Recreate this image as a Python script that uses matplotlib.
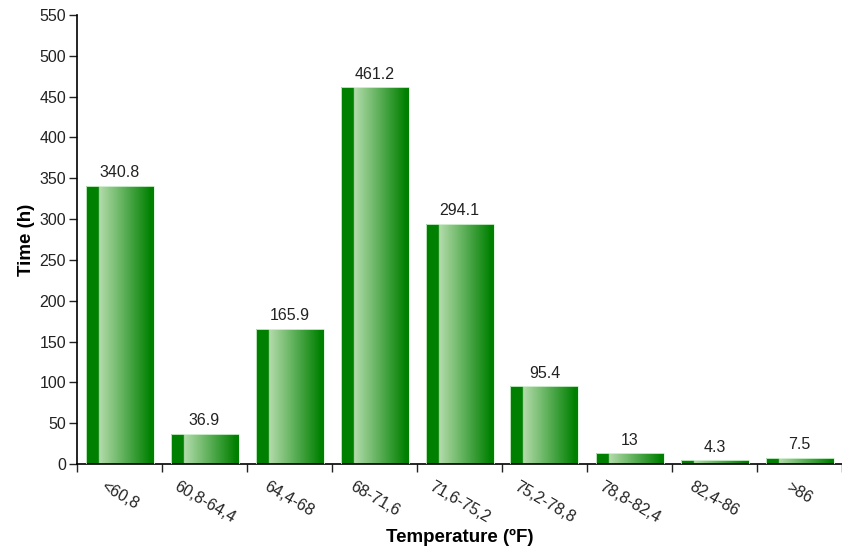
import matplotlib
matplotlib.use("Agg")
import matplotlib.pyplot as plt
import numpy as np
from matplotlib.colors import to_rgb

plt.rcParams['font.family'] = ['Liberation Sans', 'DejaVu Sans']

categories = ["<60,8", "60,8-64,4", "64,4-68", "68-71,6", "71,6-75,2",
              "75,2-78,8", "78,8-82,4", "82,4-86", ">86"]
values = [340.8, 36.9, 165.9, 461.2, 294.1, 95.4, 13, 4.3, 7.5]
value_labels = ["340.8", "36.9", "165.9", "461.2", "294.1", "95.4", "13", "4.3", "7.5"]

fig = plt.figure(figsize=(8.42, 5.55), dpi=100)
ax = fig.add_axes([77/842, 1-464/555, 765/842, 449/555])

x = np.arange(len(categories))
bars = ax.bar(x, values, width=0.8, color='none', edgecolor='#d8f4d8', linewidth=0.6, zorder=3)

# gradient image
N = 200
dark = np.array(to_rgb('#008000'))
light = np.array(to_rgb('#b4dcac'))
grad = np.zeros((1, N, 3))
split = int(N * 0.19)
for i in range(N):
    if i < split:
        grad[0, i] = dark
    else:
        t = (i - split) / (N - split - 1)
        t = min(1.0, t / 0.95)
        grad[0, i] = light * (1 - t) + dark * t

for b in bars:
    x0 = b.get_x()
    w = b.get_width()
    im = ax.imshow(grad, extent=(x0, x0 + w, 0, 550), aspect='auto', zorder=2,
                   interpolation='bilinear')
    im.set_clip_path(b)

for b, lab in zip(bars, value_labels):
    ax.annotate(lab, (b.get_x() + b.get_width() / 2, b.get_height()),
                xytext=(0, 4), textcoords='offset points', ha='center', va='bottom',
                fontsize=11.5, color='#222222')

ax.set_xlim(-0.5, len(categories) - 0.5)
ax.set_ylim(0, 550)
ax.set_yticks(np.arange(0, 551, 50))
ax.tick_params(axis='y', length=6, width=1, labelsize=11.5, pad=2, colors='#222222')

ax.set_xticks(x)
ax.set_xticklabels(categories, rotation=-30, ha='center', va='top', fontsize=11.5, color='#222222')
ax.tick_params(axis='x', which='major', length=0, pad=11)
ax.set_xticks(np.arange(-0.5, len(categories) + 0.5, 1), minor=True)
ax.tick_params(axis='x', which='minor', length=6, width=1, color='#222222')

for s in ['top', 'right']:
    ax.spines[s].set_visible(False)
ax.spines['left'].set_linewidth(1.2)
ax.spines['bottom'].set_linewidth(1.2)

ax.set_xlabel("Temperature (ºF)", fontsize=13.5, fontweight='bold', labelpad=2)
ax.set_ylabel("Time (h)", fontsize=13.5, fontweight='bold', labelpad=3)

fig.savefig("out.png", dpi=100)
